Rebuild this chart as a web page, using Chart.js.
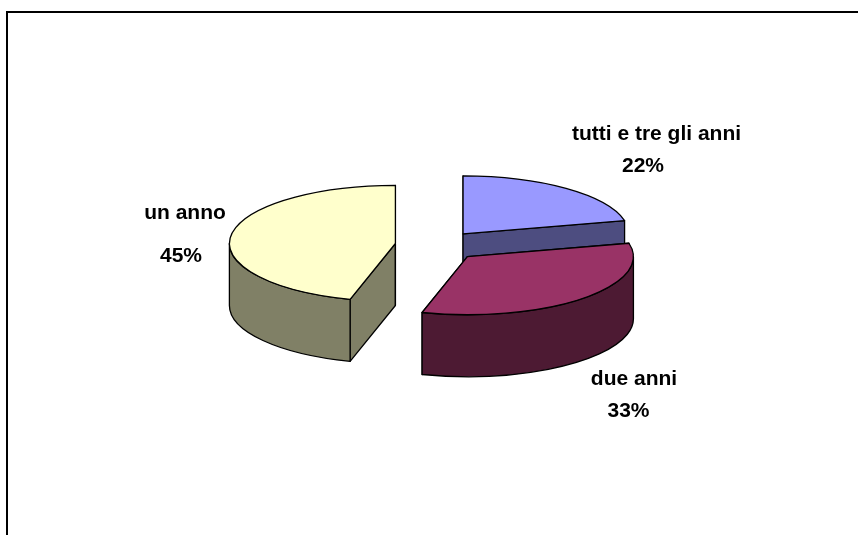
<!DOCTYPE html>
<html><head><meta charset="utf-8">
<style>html,body{margin:0;padding:0;background:#fff}canvas{display:block}</style>
<script src="https://cdn.jsdelivr.net/npm/chart.js@4"></script>
</head><body><canvas id="c" width="858" height="535"></canvas>
<script>
const categories = ['tutti e tre gli anni', 'due anni', 'un anno'];
const shares = [21.3, 33.1, 45.6];
const percentLabels = ['22%', '33%', '45%'];
const topColors = ['#9999FF', '#993366', '#FFFFCC'];
const sideColors = ['#4D4D80', '#4D1A33', '#808066'];
const explode = [42, 44, 42];

const TILT = 0.35, DEPTH = 62;

function traceTop(ctx, cx, cy, r, a0, a1) {
  ctx.beginPath();
  ctx.moveTo(cx, cy);
  ctx.ellipse(cx, cy, r, r * TILT, 0, a0, a1);
  ctx.closePath();
}
function paint(ctx, fill) {
  ctx.fillStyle = fill; ctx.fill();
  ctx.strokeStyle = '#000'; ctx.lineWidth = 1.3; ctx.lineJoin = 'round'; ctx.stroke();
}
// Chart.js computes each slice's angles, centre and radius; the arc is drawn as a tilted solid.
Chart.ArcElement.prototype.draw = function (ctx) {
  const { x, y, startAngle: a0, endAngle: a1, outerRadius: r } = this;
  const off = this.options.offset || 0, mid = (a0 + a1) / 2;
  const cx = x + Math.cos(mid) * off, cy = y + Math.sin(mid) * off * TILT;
  const px = a => cx + Math.cos(a) * r, py = a => cy + Math.sin(a) * r * TILT;
  const side = this.options.borderColor;
  [a0, a1].forEach(a => {
    ctx.beginPath();
    ctx.moveTo(cx, cy); ctx.lineTo(px(a), py(a));
    ctx.lineTo(px(a), py(a) + DEPTH); ctx.lineTo(cx, cy + DEPTH); ctx.closePath();
    paint(ctx, side);
  });
  let s = Math.max(a0, 0), e = Math.min(a1, Math.PI);
  if (e > s) {
    ctx.beginPath();
    ctx.ellipse(cx, cy, r, r * TILT, 0, s, e);
    ctx.lineTo(px(e), py(e) + DEPTH);
    ctx.ellipse(cx, cy + DEPTH, r, r * TILT, 0, e, s, true);
    ctx.closePath();
    paint(ctx, side);
  }
  traceTop(ctx, cx, cy, r, a0, a1);
  paint(ctx, this.options.backgroundColor);
};

const frame = {
  id: 'frame',
  beforeDraw(chart) {
    const ctx = chart.ctx;
    ctx.save();
    ctx.strokeStyle = '#000'; ctx.lineWidth = 2;
    ctx.beginPath();
    ctx.moveTo(7, 560); ctx.lineTo(7, 12); ctx.lineTo(870, 12);
    ctx.stroke();
    ctx.restore();
  }
};

const labelSpots = [[656.5, 140, 643, 172], [634, 385, 628.5, 417], [185, 219, 181, 262]];
const labels = {
  id: 'labels3d',
  afterDatasetsDraw(chart) {
    const ctx = chart.ctx;
    ctx.save();
    ctx.fillStyle = '#000';
    ctx.font = 'bold 21px "Liberation Sans"';
    ctx.textAlign = 'center';
    ctx.textBaseline = 'alphabetic';
    categories.forEach((name, i) => {
      const [nx, ny, vx, vy] = labelSpots[i];
      ctx.fillText(name, nx, ny);
      ctx.fillText(percentLabels[i], vx, vy);
    });
    ctx.restore();
  }
};

new Chart(document.getElementById('c'), {
  type: 'pie',
  data: { labels: categories, datasets: [{
    data: shares, backgroundColor: topColors, borderColor: sideColors, offset: explode, borderWidth: 0
  }] },
  options: {
    responsive: false, animation: false, radius: 166,
    layout: { padding: { left: 16, bottom: 44 } },
    plugins: { legend: { display: false }, tooltip: { enabled: false } }
  },
  plugins: [frame, labels]
});
</script></body></html>
